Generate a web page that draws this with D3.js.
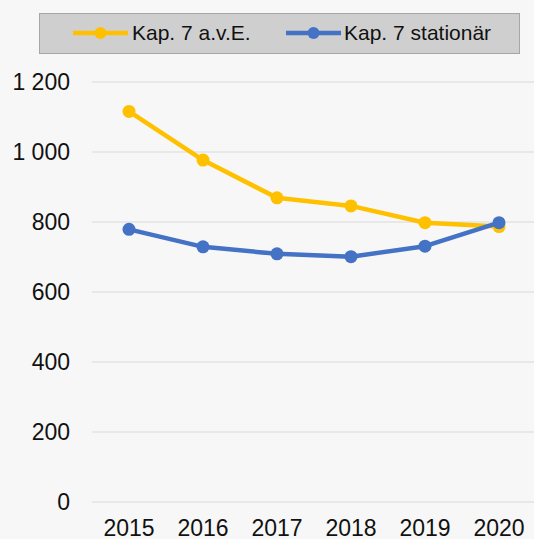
<!DOCTYPE html>
<html><head><meta charset="utf-8">
<script src="https://cdn.jsdelivr.net/npm/d3@7"></script>
<style>body{margin:0;background:#f7f7f7;}svg{display:block;font-family:"Liberation Sans",Arial,sans-serif;}</style>
</head><body>
<script>
const years = ["2015","2016","2017","2018","2019","2020"];
const seriesNames = ["Kap. 7 a.v.E.", "Kap. 7 stationär"];
const aveValues = [1116, 977, 869, 846, 798, 787];
const stationarValues = [779, 729, 709, 701, 731, 798];
const yTicks = [0, 200, 400, 600, 800, 1000, 1200];
const colors = ["#FFC000", "#4472C4"];

const W = 534, H = 539;
const svg = d3.select("body").append("svg").attr("width", W).attr("height", H);
svg.append("rect").attr("width", W).attr("height", H).attr("fill", "#f7f7f7");

const x = d3.scaleBand().domain(years).range([92, 536]);
const y = d3.scaleLinear().domain([0, 1200]).range([502, 82]);

const fmt = v => d3.format(",")(v).replace(/,/g, " ");

// gridlines
svg.append("g").selectAll("line").data(yTicks).join("line")
  .attr("x1", 92).attr("x2", W).attr("y1", d => y(d)).attr("y2", d => y(d))
  .attr("stroke", "#d9d9d9").attr("stroke-width", 1);

// y axis
const yAxis = d3.axisLeft(y).tickValues(yTicks).tickFormat(fmt).tickSize(0).tickPadding(0);
const gy = svg.append("g").attr("transform", "translate(70,0)").call(yAxis);
gy.select(".domain").remove();
gy.selectAll("text").attr("font-size", 23).attr("fill", "#111").attr("font-family", "Liberation Sans, Arial, sans-serif");

// x axis
const xAxis = d3.axisBottom(x).tickSize(0).tickPadding(0);
const gx = svg.append("g").attr("transform", "translate(0,520)").call(xAxis);
gx.select(".domain").remove();
gx.selectAll("text").attr("font-size", 23).attr("fill", "#111").attr("font-family", "Liberation Sans, Arial, sans-serif");

const allSeries = [aveValues, stationarValues];
const line = d3.line().x((d, i) => x(years[i]) + x.bandwidth() / 2).y(d => y(d));
allSeries.forEach((vals, si) => {
  const g = svg.append("g");
  g.append("path").datum(vals).attr("d", line).attr("fill", "none")
    .attr("stroke", colors[si]).attr("stroke-width", 4.5).attr("stroke-linejoin", "round");
  g.selectAll("circle").data(vals).join("circle")
    .attr("cx", (d, i) => x(years[i]) + x.bandwidth() / 2).attr("cy", d => y(d))
    .attr("r", 6.5).attr("fill", colors[si]);
});

// legend
const lg = svg.append("g");
lg.append("rect").attr("x", 39.5).attr("y", 13.5).attr("width", 480).attr("height", 40)
  .attr("fill", "#d0cfd0").attr("stroke", "#a6a6a6").attr("stroke-width", 1);
const legendItems = [{lx: 73, tx: 132}, {lx: 286, tx: 344}];
legendItems.forEach((it, i) => {
  lg.append("line").attr("x1", it.lx).attr("x2", it.lx + 55).attr("y1", 33).attr("y2", 33)
    .attr("stroke", colors[i]).attr("stroke-width", 4.5);
  lg.append("circle").attr("cx", it.lx + 27.5).attr("cy", 33).attr("r", 6).attr("fill", colors[i]);
  lg.append("text").attr("x", it.tx).attr("y", 33).attr("dy", "0.35em")
    .attr("font-size", 21).attr("fill", "#111").text(seriesNames[i]);
});
</script>
</body></html>
